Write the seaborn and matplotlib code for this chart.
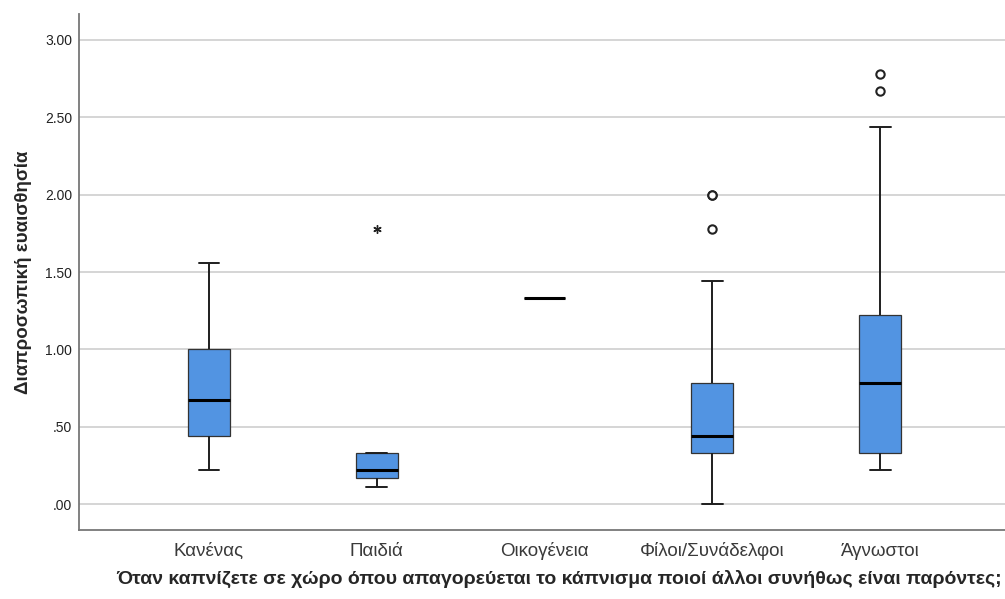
import numpy as np
import pandas as pd
import seaborn as sns
from matplotlib import pyplot as plt
from matplotlib.ticker import FuncFormatter

# categories and per-group values
kategorie = ['Κανένας', 'Παιδιά', 'Οικογένεια', 'Φίλοι/Συνάδελφοι', 'Άγνωστοι']

kanenas = [0.22, 0.44, 0.44, 0.56, 0.67, 0.89, 1.00, 1.33, 1.56]
paidia = [0.11, 0.17, 0.22, 0.33, 1.78]
oikogeneia = [1.33, 1.33, 1.33]
filoi = [0.00, 0.11, 0.22, 0.33, 0.33, 0.44, 0.44, 0.44, 0.44,
         0.56, 0.67, 0.78, 0.78, 1.44, 1.78, 2.00, 2.00]
agnostoi = [0.22, 0.33, 0.33, 0.33, 0.56, 0.67, 0.78, 0.89, 1.00,
            1.22, 2.44, 2.67, 2.78]

grupy = [kanenas, paidia, oikogeneia, filoi, agnostoi]

df = pd.DataFrame({
    'grupa': np.concatenate([[k] * len(g) for k, g in zip(kategorie, grupy)]),
    'wartosc': np.concatenate(grupy),
})

sns.set_style('white')
plt.rcParams['font.family'] = ['Liberation Sans', 'DejaVu Sans']

fig = plt.figure(figsize=(10.05, 5.99), dpi=100)
ax = fig.add_axes([79 / 1005, 69 / 599, 926 / 1005, 516 / 599])

ax.yaxis.grid(True, color='#d2d2d2', linewidth=1.3)
ax.set_axisbelow(True)

sns.boxplot(data=df, x='grupa', y='wartosc', order=kategorie, ax=ax,
            color='#5294e2', saturation=1, width=0.25, whis=1.5,
            showfliers=False, linecolor='#1e1e1e', linewidth=1.4,
            medianprops={'color': 'black', 'linewidth': 2.2},
            boxprops={'edgecolor': '#333333', 'linewidth': 0.9})

# outliers (circle) and extremes (asterisk), SPSS style
for i, g in enumerate(grupy):
    g = np.array(g)
    q1, q3 = np.percentile(g, [25, 75])
    iqr = q3 - q1
    out = g[((g > q3 + 1.5 * iqr) & (g <= q3 + 3 * iqr)) |
            ((g < q1 - 1.5 * iqr) & (g >= q1 - 3 * iqr))]
    ext = g[(g > q3 + 3 * iqr) | (g < q1 - 3 * iqr)]
    if len(out):
        ax.plot([i] * len(out), out, linestyle='none', marker='o', markersize=6,
                markerfacecolor='white', markeredgecolor='#222222', markeredgewidth=1.5)
    if len(ext):
        ax.plot([i] * len(ext), ext, linestyle='none', marker=(6, 2, 0), markersize=6,
                color='#222222', markeredgewidth=1.0)

ax.set_ylim(-0.168, 3.168)
ax.set_xlim(-0.775, 4.745)
ax.set_yticks([0, 0.5, 1.0, 1.5, 2.0, 2.5, 3.0])
ax.yaxis.set_major_formatter(FuncFormatter(lambda v, p: f'{v:.2f}'.lstrip('0') if v < 1 else f'{v:.2f}'))
ax.tick_params(axis='y', length=0, pad=5, labelsize=10, labelcolor='#222222')
ax.tick_params(axis='x', length=0, pad=9, labelsize=13.5, labelcolor='#3a3a3a')

for s in ['top', 'right']:
    ax.spines[s].set_visible(False)
for s in ['left', 'bottom']:
    ax.spines[s].set_color('#777777')
    ax.spines[s].set_linewidth(1.3)

ax.set_ylabel('Διαπροσωπική ευαισθησία', fontsize=13.5, fontweight='bold', labelpad=9)
ax.set_xlabel('Όταν καπνίζετε σε χώρο όπου απαγορεύεται το κάπνισμα ποιοί άλλοι συνήθως είναι παρόντες;',
              fontsize=14, fontweight='bold')
ax.xaxis.set_label_coords(0.518, -0.095)
ax.xaxis.label.set_verticalalignment('center')

plt.savefig('out.png', dpi=100)
